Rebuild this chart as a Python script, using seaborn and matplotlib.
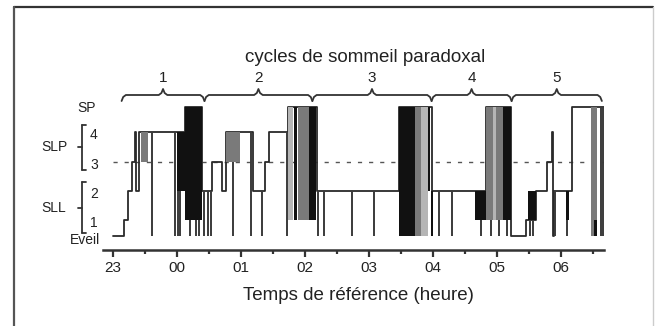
import numpy as np
import pandas as pd
import seaborn as sns
import matplotlib.pyplot as plt
from matplotlib.lines import Line2D

# time in minutes after 23:00, stages: 0=Eveil, 1..4 = NREM stages, 5 = SP
trace_min = [0, 11, 14, 18, 21, 22, 24.5, 68, 84, 93.5, 102, 106, 131, 143, 146.5,
             164, 191, 268, 299, 350, 373, 387, 396, 406.5, 411.5, 412, 413, 430, 460]
trace_stage = [0, 1, 2, 3, 4, 2, 4, 5, 2, 3, 2, 4, 2, 3, 4,
               5, 2, 5, 2, 5, 0, 1, 2, 3, 4, 0, 2, 5, 5]

# brief awakenings (time, stage the line drops from)
wake_min = [36.5, 58, 61, 63.5, 72, 78.5, 81, 86, 89.5, 92.5, 113, 130, 139.5, 163.5,
            192, 198, 224.5, 245, 306, 318, 345, 354.5, 362, 369.5, 391, 394,
            414.5, 425, 457, 459]
wake_from = [4, 4, 2, 2, 1, 1, 1, 2, 2, 2, 4, 4, 2, 4,
             2, 2, 2, 2, 2, 2, 1, 1, 1, 1, 1, 1,
             2, 2, 5, 5]

# dense fragments (start, end, low stage, high stage, shade)
blk_start = [27, 60, 68, 106.5, 164, 170, 174, 184, 268, 283, 289, 295, 298,
             339, 350, 356, 365, 389, 424, 448, 450.5]
blk_end = [33, 68, 84, 119.5, 169, 172.5, 184, 190, 283, 289, 295, 297.5, 300,
           350, 365, 359, 373, 396, 427, 453.5, 453.5]
blk_low = [3, 2, 1, 3, 1, 1, 1, 1, 0, 0, 0, 2, 0,
           1, 1, 1, 1, 1, 1, 0, 0]
blk_high = [4, 4, 5, 4, 5, 5, 5, 5, 5, 5, 5, 5, 2,
            2, 5, 5, 5, 2, 2, 5, 1]
blk_shade = ['g', 'k', 'k', 'g', 'lg', 'k', 'g', 'k', 'k', 'g', 'lg', 'k', 'k',
             'k', 'g', 'lg', 'k', 'k', 'k', 'g', 'k']

cycle_bounds = [8.4, 86, 187, 298.6, 373.5, 458]
cycle_names = ['1', '2', '3', '4', '5']

hour_ticks = [0, 60, 120, 180, 240, 300, 360, 420]
hour_labels = ['23', '00', '01', '02', '03', '04', '05', '06']
stage_names = ['Eveil', '1', '2', '3', '4', 'SP']

# vertical position of each stage on the chart
level = [0, 16, 45, 74, 104, 129]
shades = {'k': '#111111', 'g': '#7a7a7a', 'lg': '#b5b5b5'}

sns.set_style('white')
plt.rcParams['font.family'] = ['Liberation Sans', 'DejaVu Sans']

W, H = 655, 326
fig = plt.figure(figsize=(W / 100, H / 100), dpi=100)
ax = fig.add_axes([103 / W, 76 / H, 501 / W, 210 / H])

df = pd.DataFrame({'t': trace_min, 'y': [level[s] for s in trace_stage]})
sns.lineplot(data=df, x='t', y='y', drawstyle='steps-post', sort=False,
             estimator=None, color='#2a2a2a', lw=1.3, ax=ax, zorder=3)

ax.vlines(wake_min, level[0], [level[s] for s in wake_from],
          color='#3a3a3a', lw=1.4, zorder=3)

for s, e, lo, hi, c in zip(blk_start, blk_end, blk_low, blk_high, blk_shade):
    ax.fill_between([s, e], level[lo], level[hi], color=shades[c], lw=0, zorder=4)

ax.axhline(level[3], xmin=0.02, color='#555555', lw=1.0, ls=(0, (3, 5)), zorder=1)

# braces for the sleep cycles
for i, name in enumerate(cycle_names):
    x0, x1 = cycle_bounds[i], cycle_bounds[i + 1]
    xc = (x0 + x1) / 2
    bx = [x0, x0 + 1.5, x0 + 4, xc - 4, xc - 1.5, xc, xc + 1.5, xc + 4, x1 - 4, x1 - 1.5, x1]
    by = [135, 139, 141, 141, 143, 147, 143, 141, 141, 139, 135]
    ax.plot(bx, by, color='#333333', lw=1.3, clip_on=False)
    ax.text(xc, 158, name, ha='center', va='center', fontsize=11, color='#222222')

ax.set_xlim(-9, 460)
ax.set_ylim(-14, 196)
ax.set_xticks(hour_ticks)
ax.set_xticklabels(hour_labels)
ax.set_xticks([t + 30 for t in hour_ticks], minor=True)
ax.set_yticks([])
ax.tick_params(axis='x', which='major', direction='out', length=5, width=1.6,
               color='#333333', labelsize=11, pad=3, labelcolor='#222222', bottom=True)
ax.tick_params(axis='x', which='minor', direction='out', length=3, width=1.6,
               color='#333333', bottom=True)
for side in ['top', 'right', 'left']:
    ax.spines[side].set_visible(False)
ax.spines['bottom'].set_linewidth(1.8)
ax.spines['bottom'].set_color('#333333')
ax.set_xlabel('')
ax.set_ylabel('')


def fx(px):
    return px / W


def fy(py):
    return 1 - py / H


# stage labels on the left
for s, name in enumerate(stage_names):
    yy = 236 - level[s]
    if name == 'Eveil':
        fig.text(fx(100), fy(yy + 4), name, ha='right', va='center', fontsize=10, color='#222222')
    elif name == 'SP':
        fig.text(fx(87), fy(yy + 1), name, ha='center', va='center', fontsize=10, color='#222222')
    else:
        fig.text(fx(94), fy(yy + 3), name, ha='center', va='center', fontsize=10, color='#222222')

for name, top, bot in [('SLP', 125, 170), ('SLL', 182, 233)]:
    mid = (top + bot) / 2
    fig.add_artist(Line2D([fx(82), fx(82)], [fy(top), fy(bot)], color='#333333', lw=1.3))
    fig.add_artist(Line2D([fx(82), fx(86)], [fy(top), fy(top)], color='#333333', lw=1.3))
    fig.add_artist(Line2D([fx(82), fx(86)], [fy(bot), fy(bot)], color='#333333', lw=1.3))
    fig.add_artist(Line2D([fx(78), fx(82)], [fy(mid), fy(mid)], color='#333333', lw=1.3))
    fig.text(fx(54), fy(mid), name, ha='center', va='center', fontsize=10, color='#222222')

fig.text(fx(365), fy(58), 'cycles de sommeil paradoxal', ha='center', va='center',
         fontsize=13.5, color='#222222')
fig.text(fx(358), fy(296), 'Temps de référence (heure)', ha='center', va='center',
         fontsize=13.5, color='#222222')

# outer frame
fig.add_artist(Line2D([fx(14), fx(653)], [fy(7), fy(7)], color='#333333', lw=1.6))
fig.add_artist(Line2D([fx(14), fx(14)], [fy(7), 0], color='#555555', lw=1.6))
fig.add_artist(Line2D([fx(653), fx(653)], [fy(7), 0], color='#cccccc', lw=1.0))

fig.savefig('out.png', dpi=100)
